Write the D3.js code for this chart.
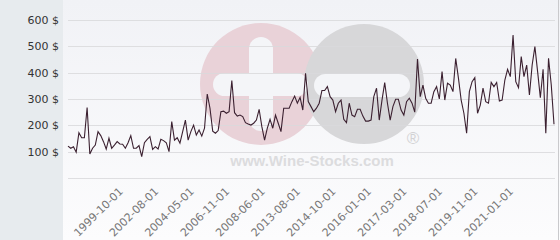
<!doctype html>
<html lang="en">
<head>
<meta charset="UTF-8">
<title>Wine price history</title>
<style>
  body { margin: 0; background: #fff; }
  svg { display: block; font-family: "DejaVu Sans", sans-serif; }
</style>
</head>
<body>
<div id="chart"></div>
<script src="https://d3js.org/d3.v7.min.js"></script>
<script>
// price per bottle, one value per sale in order
const prices = [
  121, 113, 119, 98, 172, 153, 153, 268, 91, 113, 125, 176, 161, 138, 110, 151, 113, 125, 138, 129,
  128, 113, 134, 161, 113, 113, 123, 81, 134,
  147, 157, 109, 119, 110, 147, 142, 134, 100, 214, 144, 153, 132, 176, 220, 144, 176, 201, 163, 182,
  159, 189, 319, 265, 178, 170, 180,
  252, 254, 246, 252, 370, 248, 235, 239, 233, 210, 205, 201, 208, 220, 261, 195, 144, 189, 223, 189,
  239, 208, 176, 265, 265, 265, 290, 311, 284, 306, 258, 398, 290, 271, 252, 265,
  284, 332, 332, 347, 309, 296, 252, 284, 296, 223, 210, 284, 239, 233, 261, 261, 235, 216, 216, 220,
  309, 341, 220, 296, 362, 284, 220, 271, 299, 299, 258, 239, 290, 303,
  284, 250, 452, 309, 353, 303, 284, 284, 328, 347, 300, 404, 296, 360, 353, 328, 454, 379, 296, 246,
  170, 328, 366, 381, 246, 277, 341, 290, 284,
  363, 347, 363, 292, 296, 372, 413, 385, 543, 366, 343, 461, 385, 429, 315, 429, 499, 404, 305, 413,
  170, 455, 353, 204
];

// dates shown under the axis, every 13th sale starting at sale 20
const tickLabels = [
  '1999-10-01', '2002-08-01', '2004-05-01', '2006-11-01', '2008-06-01', '2013-08-01',
  '2014-10-01', '2016-01-01', '2017-03-01', '2018-07-01', '2019-11-01', '2021-01-01'
];
const tickStart = 20;
const tickStep = 13;

const yTicks = [0, 100, 200, 300, 400, 500, 600];

const width = 560;
const height = 240;
const panelW = 63;
const plotLeft = 68, plotRight = 555, plotTop = 20, plotBottom = 178;

const svg = d3.select('#chart')
  .append('svg')
  .attr('width', width)
  .attr('height', height);

const defs = svg.append('defs');
const grad = defs.append('linearGradient')
  .attr('id', 'bg')
  .attr('x1', 0).attr('y1', 0).attr('x2', 0).attr('y2', 1);
grad.append('stop').attr('offset', '0%').attr('stop-color', '#f1f2f6');
grad.append('stop').attr('offset', '100%').attr('stop-color', '#fcfcfd');

// backgrounds
svg.append('rect')
  .attr('x', panelW).attr('y', 0)
  .attr('width', width - panelW).attr('height', height)
  .attr('fill', 'url(#bg)');
svg.append('rect')
  .attr('x', 0).attr('y', 0)
  .attr('width', panelW).attr('height', height)
  .attr('fill', '#e7ebee');
svg.append('line')
  .attr('x1', 558.5).attr('x2', 558.5)
  .attr('y1', 0).attr('y2', height)
  .attr('stroke', '#c9c9cc');

const x = d3.scaleLinear().domain([0, prices.length - 1]).range([plotLeft, 554]);
const y = d3.scaleLinear().domain([0, 600]).range([plotBottom, plotTop]);

// watermark
const wm = svg.append('g');
wm.append('circle').attr('cx', 261).attr('cy', 84).attr('r', 61).attr('fill', '#e9d2d8');
wm.append('circle').attr('cx', 364).attr('cy', 84).attr('r', 60).attr('fill', '#d7d7d9');
wm.append('rect').attr('x', 213).attr('y', 73).attr('width', 95).attr('height', 23)
  .attr('rx', 11.5).attr('fill', '#f4f5f8');
wm.append('rect').attr('x', 249).attr('y', 37).attr('width', 24).attr('height', 94)
  .attr('rx', 12).attr('fill', '#f4f5f8');
wm.append('rect').attr('x', 314).attr('y', 74).attr('width', 96).attr('height', 23)
  .attr('rx', 11.5).attr('fill', '#f4f5f8');
wm.append('text').attr('x', 413).attr('y', 144).attr('text-anchor', 'middle')
  .attr('font-family', 'Liberation Sans, Arial, sans-serif')
  .attr('font-size', 17).attr('fill', '#d2d2d4').text('®');
wm.append('text').attr('x', 312).attr('y', 166).attr('text-anchor', 'middle')
  .attr('font-family', 'Liberation Sans, Arial, sans-serif')
  .attr('font-weight', 'bold')
  .attr('font-size', 15).attr('fill', '#dcdcde').text('www.Wine-Stocks.com');

// grid lines
svg.append('g')
  .selectAll('line')
  .data(yTicks)
  .enter()
  .append('line')
  .attr('x1', plotLeft).attr('x2', plotRight)
  .attr('y1', d => Math.round(y(d)) + 0.5)
  .attr('y2', d => Math.round(y(d)) + 0.5)
  .attr('stroke', '#d9d9dc')
  .attr('stroke-opacity', 0.85);

// y labels
svg.append('g')
  .selectAll('text')
  .data(yTicks.filter(d => d > 0))
  .enter()
  .append('text')
  .attr('x', 59)
  .attr('y', d => y(d))
  .attr('dy', '0.35em')
  .attr('text-anchor', 'end')
  .attr('font-size', 11)
  .attr('fill', '#333')
  .text(d => d + ' $');

// x labels
svg.append('g')
  .selectAll('text')
  .data(tickLabels)
  .enter()
  .append('text')
  .attr('transform', (d, i) => `translate(${x(tickStart + i * tickStep) + 1}, 192) rotate(-45)`)
  .attr('text-anchor', 'end')
  .attr('font-size', 11)
  .attr('fill', '#777')
  .text(d => d);

// price line
const line = d3.line()
  .x((d, i) => x(i))
  .y(d => y(d));

svg.append('path')
  .datum(prices)
  .attr('d', line)
  .attr('fill', 'none')
  .attr('stroke', '#3b2030')
  .attr('stroke-width', 1.1)
  .attr('stroke-linejoin', 'miter');
</script>
</body>
</html>
